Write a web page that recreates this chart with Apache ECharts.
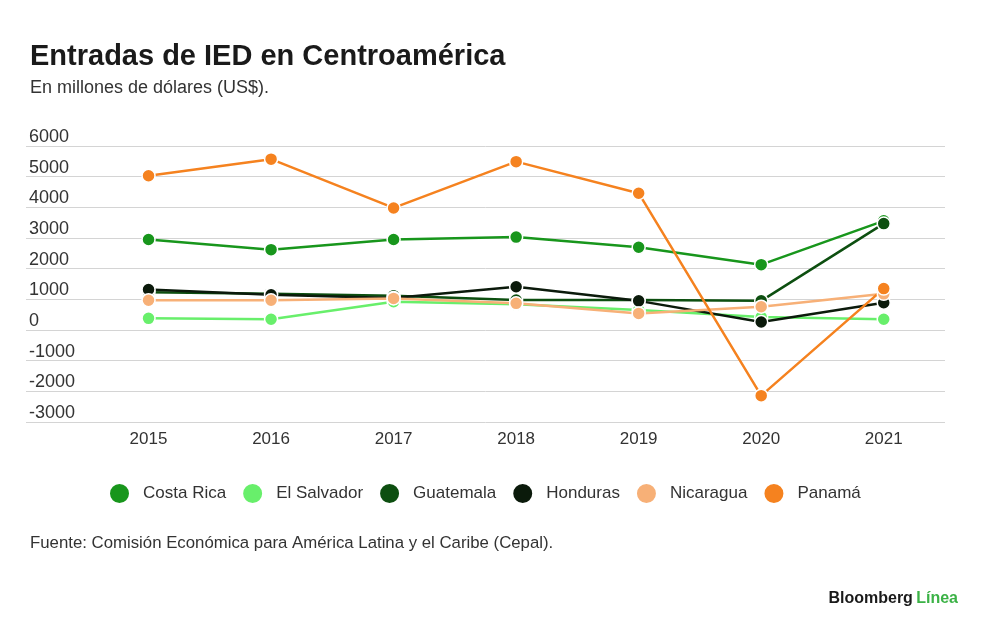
<!DOCTYPE html>
<html>
<head>
<meta charset="utf-8">
<script src="https://cdn.jsdelivr.net/npm/echarts@6/dist/echarts.min.js"></script>
<style>
  html, body { margin: 0; padding: 0; background: #fff; }
  #main { width: 1000px; height: 639px; }
</style>
</head>
<body>
<div id="main"></div>
<script>
// años y entradas de IED (millones de US$)
var years = [2015, 2016, 2017, 2018, 2019, 2020, 2021];
var costaRica  = [2950, 2620, 2950, 3030, 2700, 2130, 3560];
var elSalvador = [380, 350, 920, 840, 650, 420, 350];
var guatemala  = [1230, 1180, 1120, 980, 980, 950, 3470];
var honduras   = [1320, 1150, 1040, 1410, 950, 260, 890];
var nicaragua  = [970, 970, 1030, 870, 540, 760, 1180];
var panama     = [5030, 5570, 3980, 5490, 4460, -2140, 1350];
var yTicks = [-3000, 6000, 1000]; // min, max, step

var names = ['Costa Rica', 'El Salvador', 'Guatemala', 'Honduras', 'Nicaragua', 'Panamá'];
var colors = ['#18961c', '#68ef6b', '#0d4f10', '#0b1a0b', '#f7b077', '#f5821f'];
var values = [costaRica, elSalvador, guatemala, honduras, nicaragua, panama];

window.onload = function () {
	var myChart = echarts.init(document.getElementById('main'));

	var series = names.map(function (n, k) {
		return {
			name: n,
			type: 'line',
			data: years.map(function (y, i) { return [y, values[k][i]]; }),
			symbol: 'circle',
			symbolSize: 13,
			showAllSymbol: true,
			lineStyle: { width: 2.5, color: colors[k] },
			itemStyle: { color: colors[k], borderColor: '#fff', borderWidth: 1.5 },
			emphasis: { disabled: true }
		};
	});

	var option = {
		animation: false,
		backgroundColor: '#fff',
		color: colors,
		textStyle: { fontFamily: 'Liberation Sans, Arial, sans-serif' },
		title: {
			text: 'Entradas de IED en Centroamérica',
			subtext: 'En millones de dólares (US$).',
			left: 30,
			top: 42,
			padding: 0,
			itemGap: 8,
			textStyle: { fontSize: 29, fontWeight: 'bold', color: '#1a1a1a' },
			subtextStyle: { fontSize: 18, color: '#333' }
		},
		grid: { left: 26, right: 55, top: 146, bottom: 217 },
		xAxis: {
			type: 'value',
			min: 2014,
			max: 2021.5,
			interval: 1,
			axisLine: { show: false },
			axisTick: { show: false },
			splitLine: { show: false },
			axisLabel: {
				fontSize: 17,
				color: '#333',
				margin: 9,
				formatter: function (v) { return years.indexOf(v) >= 0 ? String(v) : ''; }
			}
		},
		yAxis: {
			type: 'value',
			min: yTicks[0],
			max: yTicks[1],
			interval: yTicks[2],
			axisLine: { show: false },
			axisTick: { show: false },
			splitLine: { lineStyle: { color: '#d4d4d4', width: 1 } },
			axisLabel: {
				inside: true,
				margin: 3,
				align: 'left',
				verticalAlign: 'bottom',
				padding: [0, 0, 0, 0],
				fontSize: 18,
				color: '#333',
				formatter: function (v) { return String(v); }
			}
		},
		legend: {
			data: names,
			top: 477,
			left: 103,
			icon: 'circle',
			itemWidth: 21,
			itemHeight: 21,
			itemGap: 15,
			textStyle: { fontSize: 17, color: '#333', padding: [0, 0, 0, 8] }
		},
		graphic: [
			{
				type: 'text',
				left: 30,
				top: 535,
				style: {
					text: 'Fuente: Comisión Económica para América Latina y el Caribe (Cepal).',
					font: '16.8px Liberation Sans, Arial, sans-serif',
					fill: '#333'
				}
			},
			{
				type: 'text',
				right: 42,
				top: 591,
				style: {
					text: '{a|Bloomberg} {b|Línea}',
					rich: {
						a: { fontSize: 16, fontWeight: 'bold', fill: '#1a1a1a', fontFamily: 'Liberation Sans, Arial' },
						b: { fontSize: 16, fontWeight: 'bold', fill: '#3bb246', fontFamily: 'Liberation Sans, Arial' }
					}
				}
			}
		],
		series: series
	};

	myChart.setOption(option);
};
</script>
</body>
</html>
